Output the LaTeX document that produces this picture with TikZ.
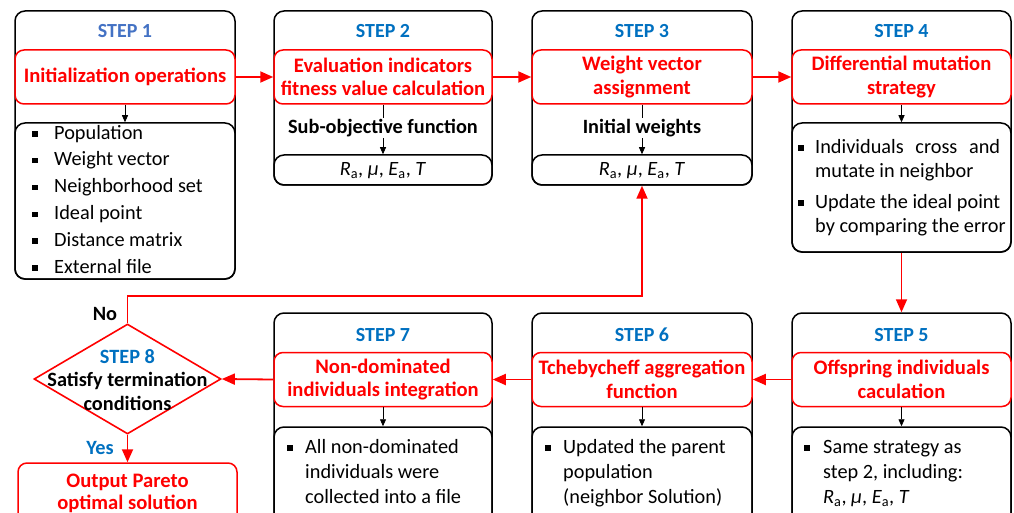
\documentclass[tikz,border=0pt]{standalone}
\usepackage{fontspec}
\setmainfont{Carlito}
\usetikzlibrary{arrows.meta,shapes.geometric}
\definecolor{stepblue}{HTML}{0070C0}
\definecolor{stepblueA}{HTML}{4472C4}
\definecolor{flowred}{HTML}{FF0000}
\newcommand\mysq[1][18pt]{\makebox[#1][l]{\strut\rule[2.5pt]{5.5pt}{5.5pt}}}
\newcommand\myind[1][18pt]{\strut\hspace*{#1}}
\newcommand\myvars{\textit{R}\textsubscript{a}, \textit{μ}, \textit{E}\textsubscript{a}, \textit{T}}
\begin{document}
\begin{tikzpicture}[x=1pt,y=-1pt,
 outer/.style={draw=black,line width=1.5pt,rounded corners=10pt,inner sep=0pt},
 innerbox/.style={draw=black,line width=1.5pt,rounded corners=10pt,inner sep=0pt},
 redbox/.style={draw=flowred,line width=1.5pt,rounded corners=9pt,fill=white,inner sep=0pt,text=flowred,font=\bfseries\fontsize{20.6}{23.5}\selectfont,align=center},
 redtxt/.style={text=flowred,font=\bfseries\fontsize{20.6}{22}\selectfont,align=center,inner sep=0pt},
 steplbl/.style={text=stepblue,font=\bfseries\fontsize{20}{22}\selectfont,inner sep=0pt},
 midlbl/.style={fill=white,font=\bfseries\fontsize{20.3}{24}\selectfont,inner sep=1pt},
 vartxt/.style={font=\fontsize{20.3}{24}\selectfont,inner sep=0pt},
 listtxt/.style={align=left,inner sep=0pt,anchor=north west},
 flow/.style={draw=flowred,line width=1.8pt,-{Triangle[length=13pt,width=11pt]}},
 blkline/.style={draw=black,line width=0.8pt},
 blk/.style={draw=black,line width=0.8pt,-{Triangle[length=7pt,width=6pt]}},
]
\useasboundingbox (0,0) rectangle (1014,513);
\clip (0,0) rectangle (1014,513);

% ---------- STEP 1
\node[outer,minimum width=220pt,minimum height=268pt] (s1) at (125,145) {};
\node[innerbox,minimum width=220pt,minimum height=156pt] (l1) at (125,201) {};
\node[redbox,minimum width=220pt,minimum height=54pt] (r1) at (125,77) {Initialization operations};
\node[steplbl,text=stepblueA] (t1) at (125,31) {STEP 1};
\node[listtxt,font=\fontsize{20.3}{26.8}\selectfont] (l1t) at (32,120.2)
 {\mysq[22pt]Population\\ \mysq[22pt]Weight vector\\ \mysq[22pt]Neighborhood set\\ \mysq[22pt]Ideal point\\ \mysq[22pt]Distance matrix\\ \mysq[22pt]External file};

% ---------- STEP 2
\node[outer,minimum width=218pt,minimum height=174pt] (s2) at (383,98) {};
\node[innerbox,minimum width=218pt,minimum height=30pt] (b2) at (383,170) {};
\node[redbox,minimum width=218pt,minimum height=54pt] (r2) at (383,77) {Evaluation indicators\\fitness value calculation};
\node[steplbl] (t2) at (383,31) {STEP 2};
\node[midlbl] (m2) at (383,128) {Sub-objective function};
\node[vartxt] (v2) at (383,171) {\myvars};

% ---------- STEP 3
\node[outer,minimum width=220pt,minimum height=174pt] (s3) at (642,98) {};
\node[innerbox,minimum width=220pt,minimum height=30pt] (b3) at (642,170) {};
\node[redbox,minimum width=220pt,minimum height=54pt] (r3) at (642,77) {Weight vector\\assignment};
\node[steplbl] (t3) at (642,31) {STEP 3};
\node[midlbl] (m3) at (642,128) {Initial weights};
\node[vartxt] (v3) at (642,171) {\myvars};

% ---------- STEP 4
\node[outer,minimum width=219pt,minimum height=241pt] (s4) at (901.5,131.5) {};
\node[innerbox,minimum width=219pt,minimum height=129pt] (l4) at (901.5,187.5) {};
\node[redbox,minimum width=219pt,minimum height=54pt] (r4) at (901.5,77) {Differential mutation\\strategy};
\node[steplbl] (t4) at (901.5,31) {STEP 4};
\node[listtxt,font=\fontsize{20.3}{24}\selectfont] (l4t) at (798,136.2)
 {\mysq[17pt]\makebox[185pt][s]{Individuals cross and}\\ \myind[17pt]mutate in neighbor\\[7pt]
  \mysq[17pt]Update the ideal point\\ \myind[17pt]by comparing the error};

% ---------- STEP 5
\node[outer,minimum width=219pt,minimum height=227pt] (s5) at (901.5,426.5) {};
\node[innerbox,minimum width=219pt,minimum height=113pt] (l5) at (901.5,483.5) {};
\node[redbox,minimum width=219pt,minimum height=54pt] (r5) at (901.5,379.5) {Offspring individuals\\caculation};
\node[steplbl] (t5) at (901.5,335) {STEP 5};
\node[listtxt,font=\fontsize{20.3}{25}\selectfont] (l5t) at (804,435.5)
 {\mysq[19pt]Same strategy as\\ \myind[19pt]step 2, including:\\ \myind[19pt]\myvars};

% ---------- STEP 6
\node[outer,minimum width=220pt,minimum height=227pt] (s6) at (642,426.5) {};
\node[innerbox,minimum width=220pt,minimum height=113pt] (l6) at (642,483.5) {};
\node[redbox,minimum width=220pt,minimum height=54pt] (r6) at (642,379.5) {Tchebycheff aggregation\\function};
\node[steplbl] (t6) at (642,335) {STEP 6};
\node[listtxt,font=\fontsize{20.3}{25}\selectfont] (l6t) at (545,435.5)
 {\mysq[18pt]Updated the parent\\ \myind[18pt]population\\ \myind[18pt](neighbor Solution)};

% ---------- STEP 7
\node[outer,minimum width=218pt,minimum height=227pt] (s7) at (383,426.5) {};
\node[innerbox,minimum width=218pt,minimum height=113pt] (l7) at (383,483.5) {};
\node[redbox,minimum width=218pt,minimum height=54pt] (r7) at (383,379.5) {Non-dominated\\individuals integration};
\node[steplbl] (t7) at (383,335) {STEP 7};
\node[listtxt,font=\fontsize{20.3}{25}\selectfont] (l7t) at (287,435.5)
 {\mysq[18pt]All non-dominated\\ \myind[18pt]individuals were\\ \myind[18pt]collected into a file};

% ---------- STEP 8
\node[draw=flowred,line width=1.6pt,diamond,minimum width=187pt,minimum height=110pt,inner sep=0pt] (d8) at (127.5,379) {};
\node[align=center,inner sep=0pt,font=\bfseries\fontsize{20.3}{23.5}\selectfont] (d8t) at (127.5,380)
 {\textcolor{stepblue}{STEP 8}\\Satisfy termination\\conditions};
\node[font=\bfseries\fontsize{20.3}{24}\selectfont,inner sep=0pt] (no) at (105,314) {No};
\node[font=\bfseries\fontsize{20.3}{24}\selectfont,text=stepblue,inner sep=0pt] (yes) at (100,448) {Yes};
\node[draw=flowred,line width=1.5pt,rounded corners=9pt,minimum width=219pt,minimum height=82pt,inner sep=0pt] (out) at (127.5,504) {};
\node[redtxt] (outt) at (127.5,493.5) {Output Pareto\\optimal solution};

% ---------- connectors
\draw[flow] (r1.east) -- (r2.west);
\draw[flow] (r2.east) -- (r3.west);
\draw[flow] (r3.east) -- (r4.west);
\draw[flow] (s4.south) -- (s5.north);
\draw[flow] (r5.west) -- (r6.east);
\draw[flow] (r6.west) -- (r7.east);
\draw[flow] (r7.west) -- (d8.east);
\draw[flow] (d8.south) -- (out.north);
\coordinate (fb) at (642,296);
\draw[flow] (d8.north) |- (fb) -- (b3.south);

\draw[blk] (r1.south) -- (l1.north);
\draw[blkline] (r2.south) -- (m2.north);
\draw[blk] (m2.south) -- (b2.north);
\draw[blkline] (r3.south) -- (m3.north);
\draw[blk] (m3.south) -- (b3.north);
\draw[blk] (r4.south) -- (l4.north);
\draw[blk] (r5.south) -- (l5.north);
\draw[blk] (r6.south) -- (l6.north);
\draw[blk] (r7.south) -- (l7.north);
\end{tikzpicture}
\end{document}
